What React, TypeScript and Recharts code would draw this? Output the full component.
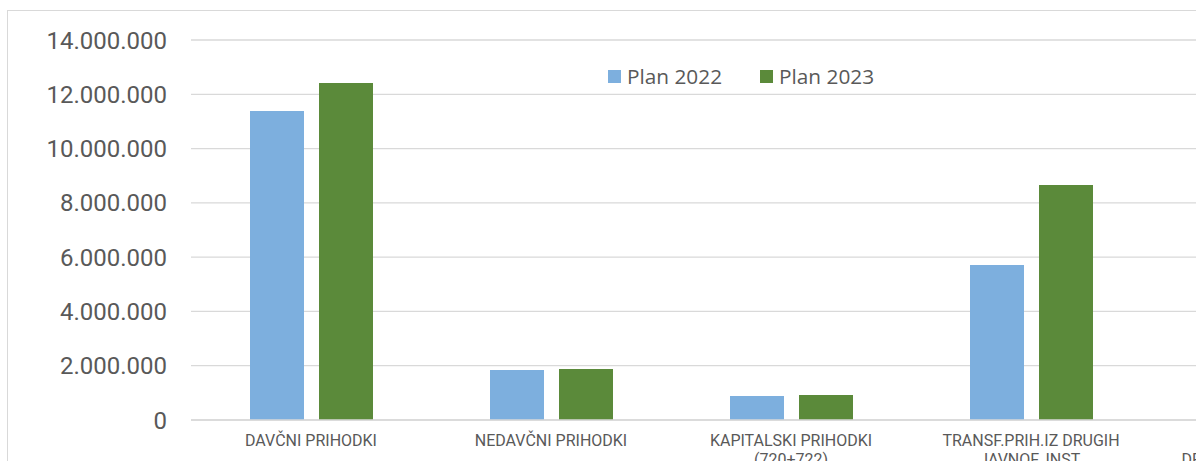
import { Bar, BarChart, CartesianGrid, XAxis, YAxis } from 'recharts';

const categories = [
  'DAVČNI PRIHODKI',
  'NEDAVČNI PRIHODKI',
  'KAPITALSKI PRIHODKI\n(720+722)',
  'TRANSF.PRIH.IZ DRUGIH\nJAVNOF. INST.',
  'PREJ.SR.IZ\nDRŽAVNEGA PRORAČUN',
];
const plan2022 = [11380000, 1840000, 880000, 5710000, 0];
const plan2023 = [12420000, 1880000, 920000, 8660000, 0];
const yTicks = [0, 2000000, 4000000, 6000000, 8000000, 10000000, 12000000, 14000000];
const seriesNames = ['Plan 2022', 'Plan 2023'];

const data = categories.map((name, i) => ({ name, p22: plan2022[i], p23: plan2023[i] }));

const TEXT = '#595959';
const GRID = '#d9d9d9';
const BLUE = '#7DAFDE';
const GREEN = '#5B8A3A';
const colors = [BLUE, GREEN];

const fmt = (v: number) => v.toLocaleString('de-DE');

const CategoryTick = ({ x, y, payload }: any) => {
  const lines = String(payload.value).split('\n');
  return (
    <text x={x} y={y} textAnchor="middle" fill={TEXT} fontSize={16} fontFamily="Roboto">
      {lines.map((line, i) => (
        <tspan key={i} x={x} dy={i === 0 ? 26 : 19}>{line}</tspan>
      ))}
    </text>
  );
};

const LegendBox = () => (
  <div style={{ position: 'absolute', top: 63, left: 608, display: 'flex', alignItems: 'center', fontFamily: '"Open Sans"', fontSize: 20.8, color: TEXT, whiteSpace: 'nowrap', lineHeight: '26px' }}>
    {seriesNames.map((label, i) => (
      <div key={label} style={{ display: 'flex', alignItems: 'center', marginLeft: i ? 38 : 0 }}>
        <span style={{ width: 13, height: 13, background: colors[i], display: 'inline-block', marginRight: 6 }} />
        <span>{label}</span>
      </div>
    ))}
  </div>
);

export default function App() {
  return (
    <div style={{ position: 'fixed', left: 0, top: 0, width: 1196, height: 461, overflow: 'hidden', background: '#fff' }}>
      <div style={{ position: 'absolute', left: 7, top: 10, width: 1500, height: 600, border: `1px solid ${GRID}` }} />
      <div style={{ position: 'absolute', left: 0, top: 0 }}>
        <BarChart
          width={1420}
          height={480}
          data={data}
          margin={{ top: 40, right: 29, left: 0, bottom: 0 }}
          barSize={54}
          barGap={15}
        >
          <CartesianGrid vertical={false} stroke={GRID} strokeWidth={1.3} />
          <XAxis
            dataKey="name"
            height={60}
            tickLine={false}
            tickSize={0}
            tickMargin={0}
            axisLine={{ stroke: GRID, strokeWidth: 1.3 }}
            interval={0}
            tick={<CategoryTick />}
          />
          <YAxis
            width={191}
            domain={[0, 14000000]}
            ticks={yTicks}
            tickFormatter={fmt}
            axisLine={false}
            tickLine={false}
            tickSize={0}
            tickMargin={24}
            tick={{ fill: TEXT, fontSize: 24, fontFamily: 'Roboto' }}
          />
          <Bar dataKey="p22" name={seriesNames[0]} fill={BLUE} isAnimationActive={false} />
          <Bar dataKey="p23" name={seriesNames[1]} fill={GREEN} isAnimationActive={false} />
        </BarChart>
      </div>
      <LegendBox />
    </div>
  );
}
